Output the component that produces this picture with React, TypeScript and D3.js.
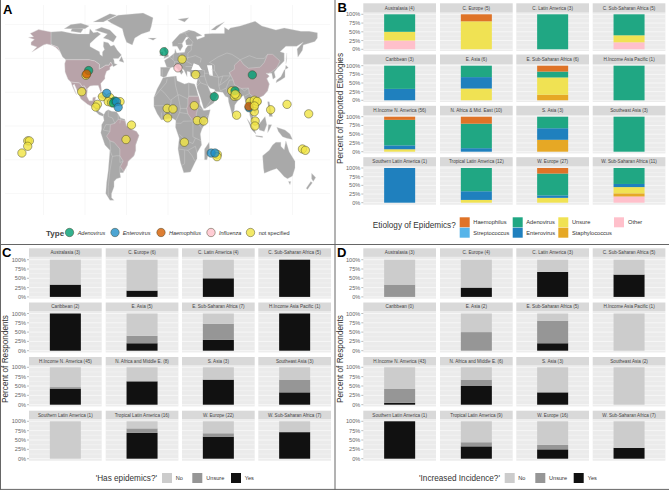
import React from "react";
import * as d3 from "d3";

type P = [number, number];
const FONT = "'Liberation Sans', Arial, sans-serif";

// ---------- Panel A data (lon, lat) ----------
const landGray: P[][] = [
  [[-141,69.6],[-128,70],[-115,68.5],[-108,68],[-95,68],[-94,72],[-90,69],[-85,69.5],[-81,68],[-87,65],[-94,61],[-94,58.8],[-88,56.7],[-82.5,55],[-82,52.9],[-79,51.5],[-79,54.7],[-76.5,56.5],[-78,59],[-77.5,62.4],[-72,61.5],[-69,59],[-65,60],[-61,56],[-56,52.5],[-60,50],[-66,50],[-65,48.5],[-64.5,46.2],[-61,45.5],[-66,43.8],[-67,45],[-69,47.3],[-71,45],[-75,45],[-79,43.3],[-83,42],[-82.5,45.5],[-88,48],[-95,49],[-123,49],[-127,51],[-130,55],[-133,58.5],[-137,59.3],[-141,60.3]],
  [[-92,14.5],[-88,18],[-88.5,16],[-83.3,15],[-83.7,11],[-79.5,9.5],[-77.3,8.5],[-78,7.3],[-80,7.5],[-83,8.3],[-86,10],[-88,13]],
  [[-73,78],[-60,82],[-30,83.5],[-18,80],[-20,74],[-22,70],[-32,68],[-40,65],[-43,60],[-50,62],[-53,67],[-55,72],[-68,76]],
  [[-80,73],[-70,71],[-62,66],[-66,62],[-72,64],[-78,65],[-73,68],[-88,71]],
  [[-117,70],[-105,69],[-102,72],[-115,73]],
  [[-90,77],[-70,83],[-62,82],[-78,77]],
  [[-125,72],[-117,75],[-105,76],[-95,74],[-100,72],[-118,72]],
  [[-59,48],[-53,47],[-56,51.5]],
  [[-85,22],[-80,23],[-75,20],[-78,20]],
  [[-74,19.7],[-69,19.5],[-69,18.3],[-74,18]],
  [[-77.3,8.5],[-75,11],[-72,12],[-68,11],[-62,10.5],[-57,6],[-52,5],[-50,0],[-44,-2.5],[-38,-4],[-35,-7],[-39,-14],[-39,-18],[-41,-22],[-48,-26],[-49,-29],[-54,-34.5],[-58,-34.5],[-57,-38],[-62,-39],[-65,-41],[-65,-45],[-68,-50],[-68,-53],[-65,-55],[-70,-55],[-75,-50],[-74,-42],[-72,-33],[-70,-18],[-76,-14],[-81,-5],[-80,-2],[-80,1],[-77,4],[-78,7.3]],
  [[-6,35.8],[10,37],[11,33.5],[20,31],[25,32],[32,31],[34,28],[37,21],[39,15.5],[43,11.5],[51,12],[48,5],[41,-2],[39,-6],[40.5,-14],[35,-20],[35,-24],[32.5,-27],[27,-34],[19,-34.5],[15,-27],[12,-17],[13.5,-9],[9,-1],[9.5,4],[5,6],[-4,5],[-8,4.5],[-13,9],[-17,14.5],[-17,21],[-13,27.5],[-9,32]],
  [[49.5,-12],[50,-16],[47,-25],[44,-25],[44,-17]],
  [[-9,37],[-9,43.5],[-1.5,43.5],[-4.5,48.5],[2,51],[8,54],[8.5,57],[10.5,54],[20,54.5],[21,57],[24,59.5],[30,60],[22,60],[21,63],[25,65.5],[22,65.8],[17,61],[18,59],[14.5,55.5],[11,59],[5.5,59],[5,62],[14,68],[25,71],[32,70],[41,67],[34,66],[35,64],[44,66],[44,68],[54,68.5],[68,68.5],[68,73],[73,71],[75,72.5],[87,74],[105,77.5],[113,74],[130,71],[140,72.5],[160,70],[170,70],[180,69],[180,65],[177,62.5],[163,60],[162,56],[156.5,51],[155.5,57],[163,62],[155,59],[142,59],[135,55],[140,54],[140,48],[132,43],[128,40],[129.5,36],[126.5,34.5],[125,39],[121,39],[118,39],[122,37],[119,35],[122,31],[120,26],[115,22.5],[110,21],[106,19],[109,13],[105,9],[100.5,13.5],[104,1.5],[101,3],[98.5,8],[98,15],[94.5,16],[91,22.5],[87,21],[80.5,15.5],[80,12],[77.5,8],[73,18],[72.5,21],[69,22],[66,25],[57,25.5],[56,27],[51,28],[48,30],[51,25],[54,24],[56,26],[59.5,22.5],[55,17],[45,13],[43,13],[39,21],[35,28],[34.5,31],[36,36],[30,36],[27,37],[26.5,40],[23,40.5],[23,36.5],[19.5,41],[13,45.5],[18.5,40],[16,38],[12,42],[8.5,44],[3,43],[0,39.5],[-2,36.7],[-5.5,36]],
  [[-5,50],[1,51.5],[-2,56],[-3,58.5],[-6,57],[-3,54]],
  [[-10,52],[-6,52],[-6,55],[-9,54.5]],
  [[-24,65],[-14,65],[-18,63.5]],
  [[80,9.5],[82,7],[80.5,6]],
  [[130,32],[136,34],[141,36],[141,41],[142,45],[145,43],[140,41.5],[136,36.5],[131,34]],
  [[95,5.5],[104,-2],[106,-6],[101,-3]],
  [[109,1],[117,7],[119,1],[116,-4],[110,-3]],
  [[105.5,-7],[114,-7.5],[114,-8.5],[106,-7.7]],
  [[120,-5],[121,1],[125,1],[122,-3]],
  [[120,18],[122,18],[124,12],[126,7],[122,7],[121,13]],
  [[131,-1],[141,-3],[147,-6],[150,-10],[143,-9],[138,-8],[133,-4]],
  [[114,-22],[122,-18],[126,-14],[130,-12],[136,-12],[136,-15],[140,-17.5],[142,-11],[146,-19],[153,-26],[153,-31],[150,-37],[144,-39],[140,-37.5],[135,-34],[131,-31.5],[124,-33],[116,-35],[115,-31]],
  [[145,-41],[148,-41],[147,-43.5]],
  [[173,-35],[178,-38],[175,-41],[173,-39]],
  [[172,-41],[174,-42],[168,-47],[166.5,-46]],
  [[12,79],[25,80],[20,77]],
  [[52,71],[58,74],[68,77],[57,71]],
  [[142,46],[143,54],[143,49]],
];
const landHighlight: P[][] = [
  [[-141,69.6],[-156,71.3],[-166,68.5],[-162,66],[-168,65.5],[-161,64],[-165,62],[-165,60],[-158,58.5],[-164,54.7],[-155,58],[-150,60],[-146,60.7],[-140,59.8],[-135,58],[-130,55],[-133,58.5],[-137,59.3],[-141,60.3]],
  [[-123,49],[-95,49],[-88,48],[-82.5,45.5],[-83,42],[-79,43.3],[-75,45],[-71,45],[-69,47.3],[-67,45],[-70,43.5],[-70,41.7],[-74,40.5],[-76,37],[-76,35],[-81,31.5],[-80,26],[-81,25],[-82.8,28],[-84,30],[-89,30],[-94,29.5],[-97.3,27.5],[-97.2,26],[-101,29.7],[-103,29],[-106.5,31.8],[-117,32.5],[-120.5,34.5],[-124,40],[-124.5,46]],
  [[-117,32.5],[-106.5,31.8],[-103,29],[-101,29.7],[-97.2,26],[-97.8,22],[-95,18.6],[-91,18.6],[-90.5,21],[-87,21.5],[-88,18],[-92,14.5],[-97,16],[-105,20],[-109,25.5],[-113,31],[-114.5,30],[-110,23],[-112,25],[-115,29]],
  [[-60,5],[-52,4],[-50,0],[-44,-2.5],[-38,-4],[-35,-7],[-39,-14],[-39,-18],[-41,-22],[-48,-26],[-49,-29],[-53.5,-33.7],[-57.5,-30],[-54,-26],[-58,-22],[-58,-17],[-65,-12],[-70,-11],[-74,-7.5],[-70,-4],[-69.5,1],[-64,2]],
  [[24,20],[25,22],[37,22],[38.5,18],[36.5,14],[34,9],[34,4],[30,3.7],[24,9],[22.5,13],[24,15.5]],
  [[74,39.5],[80,42],[80,45],[87,49],[91,45.5],[97,42.7],[111,43.5],[116,47],[120,53],[126,53],[135,48],[131,43],[124.5,40],[121,39],[118,39],[122,37],[119,35],[122,31],[120,26],[115,22.5],[110,21],[106,21.7],[102,22],[98,24],[97,28],[88,27.8],[80,30.5],[78.5,34]],
];
const seas: P[][] = [
  [[28,41.5],[41,41.5],[37,45],[31,46.5]],
  [[47,45],[53,45],[54,37],[50,37.5]],
];
const borders: P[][] = [
  [[-70,-4],[-78,-3],[-75,1],[-70,1]],[[-72,12],[-72,7],[-67,6],[-64,2]],[[-60,5],[-60,8.5]],[[-57,6],[-58,2]],[[-70,-11],[-69,-18],[-70,-18]],[[-58,-22],[-62,-22],[-67,-22.5],[-70,-18]],[[-67,-22.5],[-70,-33],[-72,-45],[-72,-52]],[[-58,-22],[-58,-27],[-54,-26]],[[-58,-30],[-58,-34.5]],
  [[-17,21],[-9,27],[-2,32],[-1,35]],[[8,37],[9,30],[12,23],[14,23],[24,20]],[[25,32],[25,22]],[[25,22],[37,22]],[[12,23],[15,13],[14,10],[9.5,4]],[[-9,27],[-5,25],[3,19],[12,23]],[[-17,15],[-5,15],[3,15],[4,19]],[[3,15],[3,6]],[[-8,10],[-8,4.5]],[[-5,15],[-3,5]],[[15,13],[22.5,13]],[[14,10],[24,9]],[[9.5,2],[16,2],[18,3.5],[30,3.7]],[[34,4],[41,-2]],[[34,4],[41,4],[48,8]],[[36.5,14],[43,11.5]],[[30,3.7],[30,-8],[40,-11]],[[13.5,-6],[22,-11],[30,-13],[33,-9]],[[12,-17],[24,-18],[33,-15],[35,-20]],[[20,-18],[20,-28],[17,-29]],[[24,-18],[29,-22],[32.5,-26]],
  [[-1.5,43.5],[3,43]],[[-7,37],[-7,42]],[[2,51],[6,49],[8,47.5],[7.5,44]],[[6,49],[6.5,53.5]],[[14,54],[15,51],[12,50],[13,47.5],[8,47.5]],[[15,51],[24,50.5],[24,54]],[[13,47.5],[17,48],[22,48],[29,45.5]],[[22,48],[24,50.5],[33,52],[40,50],[39,47]],[[24,54],[28,56],[28,60]],[[21,44],[29,44]],[[14,68],[20,69],[26,70]],[[20,69],[24,66],[30,62],[28,60]],[[17,61],[12,61]],
  [[27,37],[36,36.5],[44,37],[44,41],[41,41.5]],[[36,36.5],[39,32],[48,30]],[[44,37],[46,33],[48,30]],[[44,39],[48,39],[54,37],[61,36],[61,30],[63,26]],[[39,32],[35,29.5]],[[45,13],[52,19],[55,22]],[[36,32],[34.5,31]],[[52,42],[56,41],[56,45],[50,47],[60,51],[71,54],[77,53],[87,49]],[[56,41],[61,36],[66,37],[75,37],[74,39.5]],[[66,37],[62,30],[71,34],[75,37]],[[63,26],[70,28],[74,34],[78.5,34]],[[70,28],[72,24],[69,22]],[[88,27.8],[92,26],[97,28]],[[92,22],[98,24]],[[98,15],[99,20],[102,22]],[[99,20],[105,18],[107,15],[105,9]],[[87,49],[98,52],[107,50],[116,50],[120,53]],
];
const pointType = ["not specified","Adenovirus","Enterovirus","Haemophilus","Influenza"];
const pointLon = [17,33.3,-98.8,-104,-79,-70,-57.8,-72,-68,-85,-87,-50.6,-44,-169,-167,-169,-176,-1,6,-0.4,31.7,35.3,43,19.7,59.4,59,76.7,80,83.2,82.7,98.8,106.8,103,104,105,104.8,123.7,143.4,169.5,162,165.5,-4.8,101.6,-95.6,55.8,80.7,-98,12,-73.9,-64,-66,-62,-60,52,56.6,81,97.7,97.5,104,107.5,104.2];
const pointLat = [49.4,38,37.5,25.4,21.7,21,18,18,17.3,16,14,-10,0.7,-11,-11,-15,-20,13,12.6,6,15,4,3.7,-12,-21,-22.7,26,22,22.3,8,18,18,15,10.6,3.7,0,12,16,9,-17,-18,55,37.8,41,21.7,26,38.5,43,24.2,18.5,17,18,13.8,-20,-20,23.5,13.5,14.5,19,18.2,14.8];
const pointTypeIdx = [0,0,0,0,0,0,0,0,0,0,0,0,0,0,0,0,0,0,0,0,0,0,0,0,0,0,0,0,0,0,0,0,0,0,0,0,0,0,0,0,0,1,1,1,1,1,3,4,2,1,1,2,2,2,2,0,2,3,0,0,0];
const pointFill: Record<string,string> = {Adenovirus:"#009E73",Enterovirus:"#1f8fc8",Haemophilus:"#D55E00",Influenza:"#FFC0CB","not specified":"#F0E442"};
const lonTicks = [-150,-100,-50,0,50,100,150];
const latTicks = [-50,-25,0,25,50,75];
const mapLegend = ["Adenovirus","Enterovirus","Haemophilus","Influenza","not specified"];

// ---------- Panel B data ----------
const bRegions = ["Australasia (4)","C. Europe (5)","C. Latin America (3)","C. Sub-Saharan Africa (5)","Caribbean (3)","E. Asia (6)","E. Sub-Saharan Africa (6)","H.Income Asia Pacific (1)","H.Income N. America (56)","N. Africa & Mid. East (10)","S. Asia (3)","Southeast Asia (3)","Southern Latin America (1)","Tropical Latin America (12)","W. Europe (27)","W. Sub-Saharan Africa (11)"];
const etiologies = ["Haemophilus","Streptococcus","Adenovirus","Enterovirus","Unsure","Staphylococcus","Other"];
const haemophilus =   [0,20,0,0,0,0,17,0,9,20,0,0,0,0,16,0];
const streptococcus = [0,0,0,0,0,0,0,0,0,0,0,0,0,0,0,0];
const adenovirus =    [50,0,100,60,67,33,17,100,73,70,33,100,0,67,63,46];
const enterovirus =   [0,0,0,0,33,33,0,0,11,10,33,0,100,25,7,9];
const unsureEtiology =[25,80,0,20,0,34,50,0,7,0,0,0,0,8,14,18];
const staphylococcus =[0,0,0,0,0,0,16,0,0,0,34,0,0,0,0,9];
const otherEtiology = [25,0,0,20,0,0,0,0,0,0,0,0,0,0,0,18];
const etiologyColors = ["#DF7327","#56B4E9","#20A783","#1F80BE","#F0E253","#E6A825","#FFC0CB"];

// ---------- Panel C data ----------
const cRegions = ["Australasia (3)","C. Europe (6)","C. Latin America (4)","C. Sub-Saharan Africa (5)","Caribbean (2)","E. Asia (5)","E. Sub-Saharan Africa (7)","H.Income Asia Pacific (1)","H.Income N. America (45)","N. Africa and Middle E. (8)","S. Asia (3)","Southeast Asia (3)","Southern Latin America (1)","Tropical Latin America (16)","W. Europe (22)","W. Sub-Saharan Africa (7)"];
const cNo =     [67,83,50,0,0,60,28,0,53,37.5,33,33,100,19,32,29];
const cUnsure = [0,0,0,0,0,20,43,0,4,0,0,34,0,12,9,0];
const cYes =    [33,17,50,100,100,20,29,100,43,62.5,67,33,0,69,59,71];

// ---------- Panel D data ----------
const dRegions = ["Australasia (3)","C. Europe (4)","C. Latin America (3)","C. Sub-Saharan Africa (5)","Caribbean (0)","E. Asia (2)","E. Sub-Saharan Africa (5)","H.Income Asia Pacific (1)","H.Income N. America (43)","N. Africa and Middle E. (6)","S. Asia (3)","Southeast Asia (2)","Southern Latin America (1)","Tropical Latin America (9)","W. Europe (16)","W. Sub-Saharan Africa (7)"];
const dNo =     [67,75,33,40,0,50,20,100,58,33,67,100,0,56,63,71];
const dUnsure = [33,0,0,0,0,50,60,0,37,17,0,0,0,11,12,0];
const dYes =    [0,25,67,60,0,0,20,0,5,50,33,0,100,33,25,29];
const answerLevels = ["No","Unsure","Yes"];
const answerColors = ["#CCCCCC","#969696","#111111"];
const pctTicks = [0,25,50,75,100];
const minorTicks = [12.5,37.5,62.5,87.5];

// ---------- Layout ----------
const xMap = d3.scaleLinear().domain([0,50]).range([168,209.5]);
const yMap = d3.scaleLinear().domain([0,25]).range([126,92.2]);
const ring = d3.line<P>().x(d=>xMap(d[0])).y(d=>yMap(d[1])).curve(d3.curveLinearClosed);
const open = d3.line<P>().x(d=>xMap(d[0])).y(d=>yMap(d[1]));

type Layout = {colX:number[]; panelW:number; strip:[number,number][]; top:number[]; zero:number[]; bottom:number[]};
const layoutB: Layout = {colX:[363.3,440,516.3,592.7],panelW:72.7,strip:[[3.3,12.7],[54.5,64],[105.8,115],[157.2,166]],top:[14.3,65.7,116.7,168],zero:[49.3,100.3,151.7,202.7],bottom:[51,102,153.4,204.7]};
const layoutC: Layout = {colX:[29,105.7,182,258.3],panelW:72.7,strip:[[248.3,256.9],[302.5,311],[357,365.6],[410.7,419.3]],top:[259.7,313.5,367.3,421.3],zero:[296.9,350.7,404.7,458.7],bottom:[298.6,352.4,406.4,460.7]};
const layoutD: Layout = {...layoutC,colX:[363.3,440,516.3,592.7]};

function Facets({layout,regions,keys,series,colors}:{layout:Layout;regions:string[];keys:string[];series:number[][];colors:string[]}) {
  const rows = regions.map((r,i)=>{const o:any={region:r};keys.forEach((k,j)=>{o[k]=series[j][i]});return o;});
  // first key sits on top of the stack, as in ggplot
  const stacked = d3.stack<any>().keys([...keys].reverse())(rows);
  const band = d3.scaleBand<string>().domain(["all"]).range([0,layout.panelW]).padding(0.402);
  return <g>{regions.map((region,i)=>{
    const c=i%4, r=Math.floor(i/4);
    const px=layout.colX[c];
    const y=d3.scaleLinear().domain([0,100]).range([layout.zero[r],layout.top[r]]);
    const pTop=layout.strip[r][1], pBot=layout.bottom[r];
    return <g key={region}>
      <rect x={px} y={layout.strip[r][0]} width={layout.panelW} height={layout.strip[r][1]-layout.strip[r][0]} fill="#D9D9D9"/>
      <text x={px+layout.panelW/2} y={(layout.strip[r][0]+layout.strip[r][1])/2+1.6} fontSize={4.6} textAnchor="middle" fill="#444">{region}</text>
      <rect x={px} y={pTop} width={layout.panelW} height={pBot-pTop} fill="#EBEBEB"/>
      {minorTicks.map(t=><line key={t} x1={px} x2={px+layout.panelW} y1={y(t)} y2={y(t)} stroke="#fff" strokeWidth={0.3}/>)}
      {pctTicks.map(t=><line key={t} x1={px} x2={px+layout.panelW} y1={y(t)} y2={y(t)} stroke="#fff" strokeWidth={0.6}/>)}
      {stacked.map((s,j)=>{
        const v=s[i]; if(v[1]-v[0]<=0) return null;
        const col=colors[keys.length-1-j];
        return <rect key={s.key} x={px+band("all")!} width={band.bandwidth()} y={y(v[1])} height={y(v[0])-y(v[1])} fill={col}/>;
      })}
      {c===0&&pctTicks.map(t=><g key={t}>
        <line x1={px-2} x2={px} y1={y(t)} y2={y(t)} stroke="#555" strokeWidth={0.4}/>
        <text x={px-3} y={y(t)+2} fontSize={5.6} textAnchor="end" fill="#666">{t}%</text>
      </g>)}
    </g>;
  })}</g>;
}

function SwatchLegend({title,titleEnd,y,items}:{title:string;titleEnd:number;y:number;items:{label:string;x:number;lx:number;color:string}[]}) {
  return <g>
    <text x={titleEnd} y={y+8} fontSize={8.2} textAnchor="end" fill="#333">{title}</text>
    {items.map(it=><g key={it.label}>
      <rect x={it.x} y={y} width={10} height={10} fill={it.color}/>
      <text x={it.lx} y={y+7} fontSize={5.6} fill="#333">{it.label}</text>
    </g>)}
  </g>;
}

export default function App() {
  const etiologySeries=[haemophilus,streptococcus,adenovirus,enterovirus,unsureEtiology,staphylococcus,otherEtiology];
  const bLegendPos=[[459.7,217.3,473.3],[459.7,227.7,473.3],[512.7,217.3,526.3],[512.7,227.7,526.3],[558.3,217.3,572],[558.3,227.7,572],[614,217.3,628]];
  const mapKeyX=[69.5,115,161,211,250.5], mapLabelX=[77.7,122.7,169,219,258.7];
  return <svg width={669} height={490} viewBox="0 0 669 490" style={{position:"fixed",left:0,top:0,background:"#fff",fontFamily:FONT}}>
    <rect width={669} height={490} fill="#fff"/>
    {/* A */}
    <g>
      {lonTicks.map(t=><line key={t} x1={xMap(t)} x2={xMap(t)} y1={5} y2={215} stroke="#F1F1F1" strokeWidth={0.6}/>)}
      {latTicks.map(t=><line key={t} x1={5} x2={330} y1={yMap(t)} y2={yMap(t)} stroke="#F1F1F1" strokeWidth={0.6}/>)}
      {landGray.map((p,i)=><path key={i} d={ring(p)!} fill="#A9A9A9" stroke="#D9D9D9" strokeWidth={0.3}/>)}
      {landHighlight.map((p,i)=><path key={i} d={ring(p)!} fill="#B8A3A9" stroke="#DDD" strokeWidth={0.4}/>)}
      {seas.map((p,i)=><path key={i} d={ring(p)!} fill="#fff"/>)}
      {borders.map((p,i)=><path key={i} d={open(p)!} fill="none" stroke="#D5D5D5" strokeWidth={0.4}/>)}
      {pointLon.map((lon,i)=><circle key={i} cx={xMap(lon)} cy={yMap(pointLat[i])} r={4.2} fill={pointFill[pointType[pointTypeIdx[i]]]} fillOpacity={0.8} stroke="#3a3a20" strokeOpacity={0.8} strokeWidth={0.55}/>)}
      <text x={46} y={235.5} fontSize={8} fontWeight={700} fill="#444">Type</text>
      {mapLegend.map((l,i)=><g key={l}>
        <circle cx={mapKeyX[i]} cy={232.5} r={4.2} fill={pointFill[l]} fillOpacity={0.8} stroke="#3a3a20" strokeOpacity={0.8} strokeWidth={0.55}/>
        <text x={mapLabelX[i]} y={234.5} fontSize={5.5} fontStyle={l==="not specified"?"normal":"italic"} fill="#333">{l}</text>
      </g>)}
    </g>
    {/* B */}
    <Facets layout={layoutB} regions={bRegions} keys={etiologies} series={etiologySeries} colors={etiologyColors}/>
    <text transform="translate(342.5,108.5) rotate(-90)" fontSize={8.2} textAnchor="middle" fill="#333">Percent of Reported Etiologies</text>
    <SwatchLegend title="Etiology of Epidemics?" titleEnd={455.7} y={219.5} items={[]}/>
    {etiologies.map((l,i)=><g key={l}>
      <rect x={bLegendPos[i][0]} y={bLegendPos[i][1]} width={10} height={10} fill={etiologyColors[i]}/>
      <text x={bLegendPos[i][2]} y={bLegendPos[i][1]+6.8} fontSize={5.7} fill="#333">{l}</text>
    </g>)}
    {/* C */}
    <Facets layout={layoutC} regions={cRegions} keys={answerLevels} series={[cNo,cUnsure,cYes]} colors={answerColors}/>
    <text transform="translate(7.5,359) rotate(-90)" fontSize={8.2} textAnchor="middle" fill="#333">Percent of Respondents</text>
    <SwatchLegend title="'Has epidemics?'" titleEnd={157} y={473} items={[
      {label:"No",x:162,lx:175.7,color:answerColors[0]},{label:"Unsure",x:192.3,lx:206.3,color:answerColors[1]},{label:"Yes",x:231,lx:244.7,color:answerColors[2]}]}/>
    {/* D */}
    <Facets layout={layoutD} regions={dRegions} keys={answerLevels} series={[dNo,dUnsure,dYes]} colors={answerColors}/>
    <text transform="translate(342.5,359) rotate(-90)" fontSize={8.2} textAnchor="middle" fill="#333">Percent of Respondents</text>
    <SwatchLegend title="'Increased Incidence?'" titleEnd={500} y={473} items={[
      {label:"No",x:504.7,lx:518.3,color:answerColors[0]},{label:"Unsure",x:535.3,lx:549,color:answerColors[1]},{label:"Yes",x:573.7,lx:587.7,color:answerColors[2]}]}/>
    {/* Frames */}
    <g stroke="#666" strokeWidth={1}>
      <line x1={0.5} x2={0.5} y1={0} y2={490}/>
      <line x1={0} x2={669} y1={244.5} y2={244.5}/>
      <line x1={335} x2={335} y1={0} y2={490}/>
      <line x1={0} x2={669} y1={489.4} y2={489.4}/>
    </g>
    <g fontSize={13} fontWeight={700} fill="#000">
      <text x={3} y={14}>A</text>
      <text x={337.5} y={11.5}>B</text>
      <text x={2} y={257}>C</text>
      <text x={337} y={257}>D</text>
    </g>
  </svg>;
}
